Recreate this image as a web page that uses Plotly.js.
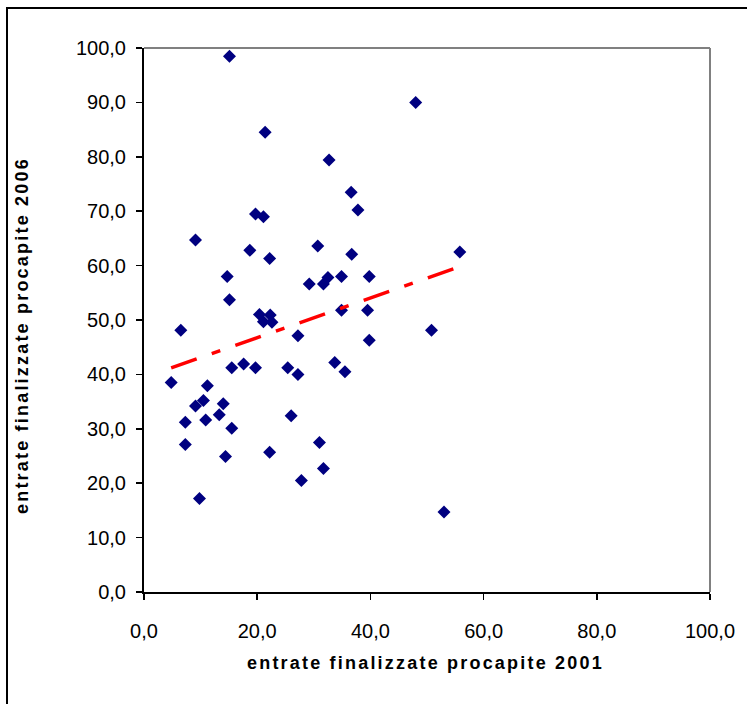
<!DOCTYPE html>
<html>
<head>
<meta charset="utf-8">
<script src="https://cdn.plot.ly/plotly-3.0.1.min.js"></script>
<style>
  html, body { margin: 0; padding: 0; background: #fff; overflow: hidden; }
  #frame { position: absolute; left: 6px; top: 7px; width: 900px; height: 900px;
           border-left: 2px solid #000; border-top: 2px solid #000; pointer-events: none; z-index: 5; }
  .annotation-text { letter-spacing: 2.2px; }
</style>
</head>
<body>
<div id="chart" style="width:747px;height:704px;"></div>
<div id="frame"></div>
<script>
// entrate finalizzate procapite 2001
const x2001 = [15.1, 21.4, 32.7, 36.6, 37.8, 19.7, 21.1, 9.1, 18.7, 22.2,
               30.7, 36.7, 14.7, 15.1, 29.2, 31.7, 32.5, 34.9, 39.8, 6.5,
               20.4, 22.3, 21.1, 22.6, 34.9, 39.5, 27.2, 39.8, 15.5, 17.6,
               19.7, 25.4, 27.2, 33.7, 35.5, 4.8, 11.2, 9.1, 10.5, 14.0,
               26.0, 13.3, 7.3, 10.9, 15.5, 7.3, 14.4, 22.2, 31.0, 31.7,
               27.8, 9.8, 48.0, 55.8, 50.8, 53.0];
// entrate finalizzate procapite 2006
const y2006 = [98.5, 84.5, 79.4, 73.5, 70.2, 69.5, 69.0, 64.7, 62.8, 61.3,
               63.6, 62.1, 58.0, 53.7, 56.6, 56.6, 57.8, 58.0, 58.0, 48.1,
               51.0, 50.9, 49.7, 49.6, 51.8, 51.8, 47.1, 46.3, 41.2, 41.9,
               41.2, 41.2, 40.0, 42.2, 40.5, 38.5, 37.9, 34.2, 35.2, 34.6,
               32.4, 32.6, 31.2, 31.6, 30.1, 27.1, 24.9, 25.7, 27.5, 22.7,
               20.5, 17.2, 90.0, 62.5, 48.1, 14.7];
// linear trend line endpoints
const trendX = [4.8, 55.8];
const trendY = [41.2, 59.8];

const xTitle = 'entrate finalizzate procapite 2001';
const yTitle = 'entrate finalizzate procapite 2006';

const traces = [
  {
    x: x2001, y: y2006, type: 'scatter', mode: 'markers',
    marker: { symbol: 'diamond', size: 10, color: '#000080', line: { width: 0 } },
    hoverinfo: 'x+y'
  },
  {
    x: trendX, y: trendY, type: 'scatter', mode: 'lines',
    line: { color: '#ff0000', width: 3.5, dash: '27px,16px,9px,16px' },
    hoverinfo: 'skip'
  }
];

const axisFont = { family: 'Liberation Sans, Arial, sans-serif', size: 20, color: '#000' };
const titleFont = { family: 'Liberation Sans, Arial, sans-serif', size: 18, color: '#000', weight: 'bold' };

const layout = {
  width: 747, height: 704,
  margin: { l: 144, r: 37, t: 48, b: 112 },
  paper_bgcolor: '#fff', plot_bgcolor: '#fff',
  showlegend: false,
  separators: ',.',
  xaxis: {
    range: [0, 100], dtick: 20, tick0: 0, tickformat: '.1f',
    showgrid: false, zeroline: false,
    showline: true, linecolor: '#000', linewidth: 2,
    ticks: 'outside', ticklen: 6, tickwidth: 1.5, tickcolor: '#000',
    tickfont: axisFont, ticklabelstandoff: 14
  },
  yaxis: {
    range: [0, 100], dtick: 10, tick0: 0, tickformat: '.1f',
    showgrid: false, zeroline: false,
    showline: true, linecolor: '#000', linewidth: 2,
    ticks: 'outside', ticklen: 6, tickwidth: 1.5, tickcolor: '#000',
    tickfont: axisFont, ticklabelstandoff: 6
  },
  shapes: [
    { type: 'line', xref: 'paper', yref: 'paper', x0: 0, x1: 1, y0: 1, y1: 1,
      line: { color: '#808080', width: 2 } },
    { type: 'line', xref: 'paper', yref: 'paper', x0: 1, x1: 1, y0: 0, y1: 1,
      line: { color: '#808080', width: 2 } }
  ],
  annotations: [
    { text: '<b>' + xTitle + '</b>', xref: 'paper', yref: 'paper',
      x: 0.498, y: -0.1305, xanchor: 'center', yanchor: 'middle',
      showarrow: false, font: titleFont },
    { text: '<b>' + yTitle + '</b>', xref: 'paper', yref: 'paper',
      x: -0.2155, y: 0.4706, xanchor: 'center', yanchor: 'middle', textangle: -90,
      showarrow: false, font: titleFont }
  ]
};

Plotly.newPlot('chart', traces, layout, { displayModeBar: false, staticPlot: true });
</script>
</body>
</html>
